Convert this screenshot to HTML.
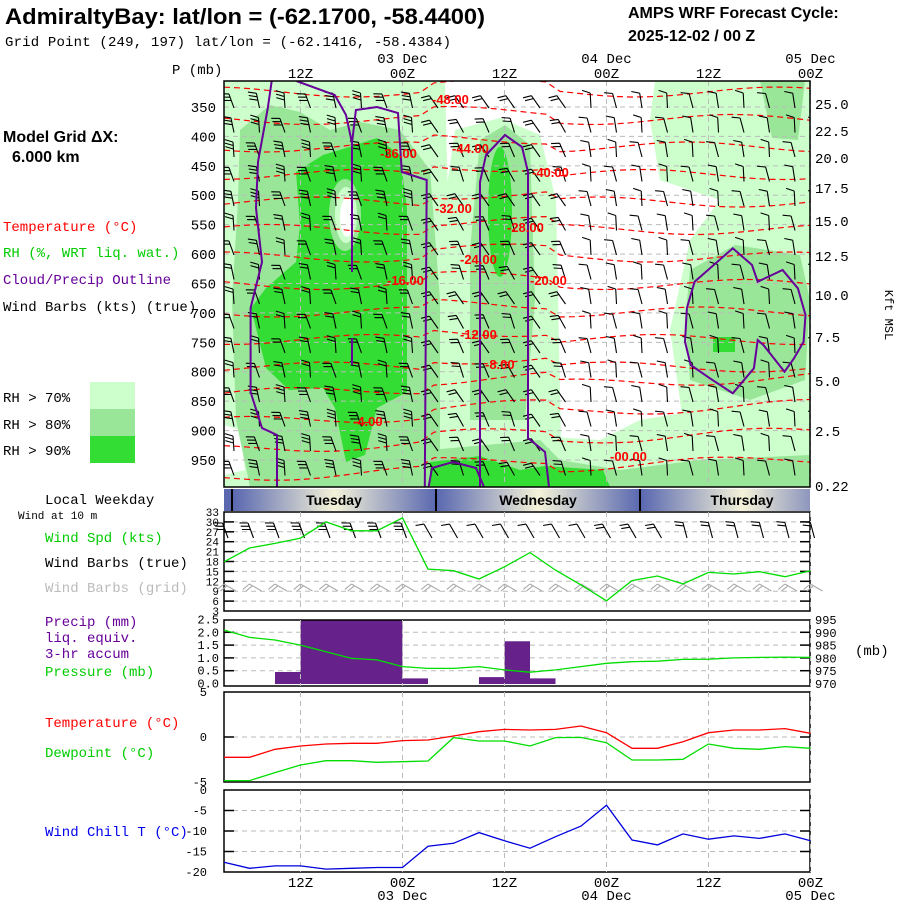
<!DOCTYPE html>
<html><head><meta charset="utf-8"><style>
body{margin:0;background:#fff}
svg{display:block}
text{font-family:"Liberation Mono",monospace;font-size:14px}
</style></head><body>
<svg id="c" width="900" height="900" viewBox="0 0 900 900">
<defs>
<linearGradient id="dayg" x1="0" x2="1" y1="0" y2="0">
<stop offset="0" stop-color="#5a68b0"/><stop offset="0.5" stop-color="#f4f2d8"/><stop offset="1" stop-color="#5a68b0"/>
</linearGradient>
<clipPath id="topclip"><rect x="224" y="81" width="586" height="406"/></clipPath>
<clipPath id="pclip"><rect x="224" y="620" width="586" height="66"/></clipPath>
<clipPath id="dayclip"><rect x="224" y="489" width="586" height="22"/></clipPath>
</defs>
<!-- header -->
<text x="5" y="24" style="font-family:'Liberation Sans',sans-serif;font-weight:bold;font-size:22px" textLength="480" lengthAdjust="spacingAndGlyphs">AdmiraltyBay:  lat/lon = (-62.1700, -58.4400)</text>
<text x="5" y="46" style="font-size:14px" textLength="446">Grid Point (249, 197) lat/lon = (-62.1416, -58.4384)</text>
<text x="628" y="18" style="font-family:'Liberation Sans',sans-serif;font-weight:bold;font-size:16px">AMPS WRF Forecast Cycle:</text>
<text x="628" y="41" style="font-family:'Liberation Sans',sans-serif;font-weight:bold;font-size:16px">2025-12-02 / 00  Z</text>
<text x="172" y="74">P (mb)</text>

<!-- left legend -->
<text x="3" y="142" style="font-family:'Liberation Sans',sans-serif;font-weight:bold;font-size:16px">Model Grid ΔX:</text>
<text x="12" y="162" style="font-family:'Liberation Sans',sans-serif;font-weight:bold;font-size:16px">6.000 km</text>
<text x="3" y="231" fill="#ff0000">Temperature (°C)</text>
<text x="3" y="257" fill="#00cc00">RH (%, WRT liq. wat.)</text>
<text x="3" y="284" fill="#660099">Cloud/Precip Outline</text>
<text x="3" y="311" fill="#000">Wind Barbs (kts) (true)</text>
<text x="3" y="402">RH &gt; 70%</text>
<text x="3" y="429">RH &gt; 80%</text>
<text x="3" y="455">RH &gt; 90%</text>
<rect x="90" y="382" width="45" height="27" fill="#ccffcc"/>
<rect x="90" y="409" width="45" height="27" fill="#99e699"/>
<rect x="90" y="436" width="45" height="27" fill="#33dd33"/>

<text x="45" y="504">Local Weekday</text>
<text x="18" y="519" style="font-size:11px">Wind at 10 m</text>
<text x="45" y="542" fill="#00cc00">Wind Spd (kts)</text>
<text x="45" y="567">Wind Barbs (true)</text>
<text x="45" y="592" fill="#bbbbbb">Wind Barbs (grid)</text>
<text x="45" y="626" fill="#660099">Precip (mm)</text>
<text x="45" y="642" fill="#660099">liq. equiv.</text>
<text x="45" y="658" fill="#660099">3-hr accum</text>
<text x="45" y="676" fill="#00cc00">Pressure (mb)</text>
<text x="855" y="655">(mb)</text>
<text x="45" y="727" fill="#ff0000">Temperature (°C)</text>
<text x="45" y="757" fill="#00cc00">Dewpoint (°C)</text>
<text x="45" y="836" fill="#0000ee">Wind Chill T (°C)</text>
<text x="885" y="315" style="font-size:12px" transform="rotate(90 885 315)" text-anchor="middle">Kft MSL</text>

<!-- top panel shading -->
<g clip-path="url(#topclip)">
<rect x="224" y="81" width="586" height="406" fill="#fff"/>
<polygon fill="#ccffcc" points="224,81 445,81 448,200 445,487 224,487"/>
<polygon fill="#ccffcc" points="455,130 500,118 540,135 556,200 562,487 445,487 445,200"/>
<polygon fill="#ccffcc" points="445,430 600,440 640,420 700,410 810,400 810,487 445,487"/>
<polygon fill="#ccffcc" points="655,81 810,81 810,487 690,487 680,400 670,330 690,240 720,200 660,180 650,120"/>
<polygon fill="#fff" points="224,425 240,430 245,470 224,475"/>
<polygon fill="#99e699" points="240,130 270,105 300,112 330,130 360,122 400,130 430,170 440,300 440,487 250,487 236,420 232,300 238,200"/>
<polygon fill="#99e699" points="480,140 505,125 530,145 535,300 525,420 470,420 470,250"/>
<polygon fill="#99e699" points="690,270 735,245 800,255 810,300 805,380 750,400 690,380 685,320"/>
<polygon fill="#99e699" points="430,450 540,440 560,460 620,470 700,460 810,455 810,487 430,487"/>
<polygon fill="#99e699" points="760,81 805,81 798,140 772,138"/>
<polygon fill="#33dd33" points="296,172 323,155 346,148 377,138 400,155 407,208 407,392 377,408 365,455 346,462 335,408 323,388 289,390 266,368 251,308 266,288 296,262 300,225"/>
<ellipse cx="345" cy="215" rx="16" ry="36" fill="#99e699"/>
<ellipse cx="346" cy="215" rx="11" ry="28" fill="#ccffcc"/>
<ellipse cx="347" cy="217" rx="7" ry="20" fill="#fff"/>
<ellipse cx="500" cy="212" rx="12" ry="65" fill="#33dd33"/>
<polygon fill="#33dd33" points="430,462 480,456 520,470 545,466 603,470 610,487 430,487"/>
<rect x="713" y="337" width="22" height="15" fill="#33dd33"/>
</g>
<g id="topgrid"></g>
<g id="tempcontours" clip-path="url(#topclip)"></g>
<g id="topbarbs" clip-path="url(#topclip)"></g>
<g clip-path="url(#topclip)" fill="none" stroke="#660099" stroke-width="2">
<polyline points="271.7,81 267.8,108 258,162 256,208 262,262 250.6,308 250.6,392 262,428 277,435 277,487"/>
<polyline points="296.5,81 334.8,95 346,115 352,143 355.9,110 377,107 398,113 401.8,172 426.7,180 424.8,487"/>
<polyline points="352,143 352,272"/><polyline points="352,338 352,365"/>
<polyline points="480,487 480,182 486,155 505,135 522,147 528,172 528,438 545,452 549,487"/>
<polyline points="428.6,487 432,468 453,462 476,468 484,487"/>
<polygon points="686.9,308 694.6,281.7 706,271.7 732.8,248.3 752,265 757.7,281.7 782.6,270 797.9,288.3 805.5,315 803.6,341.7 794,358.3 784.5,371.7 763.4,345 757.7,340 753.9,368.3 732.8,393.3 709.9,378.3 690.7,365 685,341.7"/>
</g>
<g id="templabels"></g>
<rect x="224" y="81" width="586" height="406" fill="none" stroke="#000" stroke-width="1.5"/>

<!-- weekday bar -->
<g>
<g clip-path="url(#dayclip)">
<rect x="224" y="489" width="586" height="22" fill="#5a68b0"/>
<rect x="233" y="489" width="203" height="22" fill="url(#dayg)"/>
<rect x="437" y="489" width="203" height="22" fill="url(#dayg)"/>
<rect x="641" y="489" width="203" height="22" fill="url(#dayg)"/>
</g>
<line x1="232" x2="232" y1="489" y2="511" stroke="#000" stroke-width="2"/>
<line x1="436" x2="436" y1="489" y2="511" stroke="#000" stroke-width="2"/>
<line x1="640" x2="640" y1="489" y2="511" stroke="#000" stroke-width="2"/>
<text x="334" y="505" style="font-family:'Liberation Sans',sans-serif;font-weight:bold;font-size:14px" text-anchor="middle">Tuesday</text>
<text x="538" y="505" style="font-family:'Liberation Sans',sans-serif;font-weight:bold;font-size:14px" text-anchor="middle">Wednesday</text>
<text x="742" y="505" style="font-family:'Liberation Sans',sans-serif;font-weight:bold;font-size:14px" text-anchor="middle">Thursday</text>
</g>
<g id="lower"></g>
</svg>
<script>
// ---- data ----
const timeLabels = ["12Z","00Z","12Z","00Z","12Z","00Z"];
const dateLabels = ["03 Dec","04 Dec","05 Dec"];
const pressureLevels = [350,400,450,500,550,600,650,700,750,800,850,900,950];
const kftLabels = ["25.0","22.5","20.0","17.5","15.0","12.5","10.0","7.5","5.0","2.5","0.22"];
const windSpeed = [17.9,22.1,23.5,25.1,30,27.3,27.3,31.2,15.7,15.2,12.7,16.4,20.7,15.4,10.9,6.1,12.2,13.6,11.2,14.7,14.2,14.9,13.4,15.2];
const precip = [0,0,0.45,2.6,2.6,2.6,2.6,0.2,0,0,0.25,1.65,0.2,0,0,0,0,0,0,0,0,0,0];
const pressure = [991.1,988.2,987.2,985.2,982.6,980,979.4,976.8,976.1,976.1,976.8,975.5,974.6,975.5,976.8,978.1,978.7,978.9,979.6,979.7,980.2,980.4,980.5,980.4];
const temperature = [-2.26,-2.26,-1.37,-1.0,-0.78,-0.7,-0.7,-0.4,-0.33,0.11,0.59,0.85,0.78,0.85,1.22,0.48,-1.26,-1.26,-0.52,0.48,0.78,0.78,0.93,0.41];
const dewpoint = [-4.85,-4.85,-3.96,-3.11,-2.63,-2.63,-2.81,-2.74,-2.67,-0.07,-0.44,-0.44,-1.0,-0.07,-0.04,-0.63,-2.56,-2.56,-2.48,-0.78,-1.26,-1.37,-1.07,-1.26];
const windChill = [-17.6,-19.1,-18.5,-18.5,-19.3,-19.1,-18.9,-18.9,-13.7,-13.0,-10.4,-12.4,-14.2,-11.4,-8.8,-3.7,-12.2,-13.4,-10.7,-12.0,-11.2,-11.8,-10.7,-12.4];
const windTicks = [33,30,27,24,21,18,15,12,9,6,3];
const precipTicks = ["0.0","0.5","1.0","1.5","2.0","2.5"];
const pressTicks = [970,975,980,985,990,995];
const tempTicks = [5,0,-5];
const chillTicks = [0,-5,-10,-15,-20];
const contourLabels = ["-48.00","-44.00","-40.00","-36.00","-32.00","-28.00","-24.00","-20.00","-16.00","-12.00","-8.00","-4.00","-00.00"];

// ---- axes ----
const NS="http://www.w3.org/2000/svg";
const xT=i=>224+i*25.5;
const xH=h=>224+(h-3)*8.5;
const yLev=p=>107+(p-350)*0.5883;
const yW=v=>512+(33-v)*3.3;
const yP=m=>683.5-m*25.6;
const yPr=p=>684-(p-970)*2.56;
const yT=t=>737-t*9;
const yC=t=>790-t*4.1;
function mk(tag,attrs,parent){const e=document.createElementNS(NS,tag);for(const k in attrs)e.setAttribute(k,attrs[k]);parent.appendChild(e);return e;}
const lower=document.getElementById('lower');
const tg=document.getElementById('topgrid');
const vHours=[12,24,36,48,60,72];

pressureLevels.forEach(p=>{
  const l=mk('line',{x1:224,x2:810,y1:yLev(p),y2:yLev(p),stroke:'#bbb','stroke-dasharray':'5,4'},tg);
  
  
  const t=mk('text',{x:216,y:yLev(p)+5,'text-anchor':'end'},tg);t.textContent=p;
  
  
});
vHours.forEach((h,i)=>{
  const l=mk('line',{x1:xH(h),x2:xH(h),y1:81,y2:487,stroke:'#bbb','stroke-dasharray':'5,4'},tg);
  
  
  const t=mk('text',{x:xH(h),y:78,'text-anchor':'middle'},tg);t.textContent=timeLabels[i];
  
  
  const b=mk('text',{x:xH(h),y:887,'text-anchor':'middle'},lower);b.textContent=timeLabels[i];
  
  
  if(i%2==1){
    const d=mk('text',{x:xH(h),y:63,'text-anchor':'middle'},tg);d.textContent=dateLabels[(i-1)/2];
    
    
    const d2=mk('text',{x:xH(h),y:900,'text-anchor':'middle'},lower);d2.textContent=dateLabels[(i-1)/2];
    
    
  }
});
const kftY=[104,131,158,188,221,256,295,337,381,431,486];
kftLabels.forEach((k,i)=>{
  const t=mk('text',{x:815,y:kftY[i]+5},lower);t.textContent=k;
  
  
});

// temperature contours (decorative)
const tc=document.getElementById('tempcontours');
for(let k=0;k<15;k++){
  let pts=[];
  for(let x=224;x<=812;x+=14){
    const y=92+k*27.5+5*Math.sin(x/45+k)+((x>430&&x<560)?-8:0)+(k>10?((x-224)*-0.03):0);
    pts.push(x+','+y.toFixed(1));
  }
  const pl=mk('polyline',{points:pts.join(' '),fill:'none',stroke:'#ff0000','stroke-width':1.2,'stroke-dasharray':'6,4'},tc);
  
  
}
const clPos=[[432,104],[452,153],[532,177],[380,158],[435,213],[507,232],[460,264],[530,285],[387,285],[460,339],[485,369],[353,426],[610,461]];
const tl=document.getElementById('templabels');
contourLabels.forEach((s,i)=>{
  const t=mk('text',{x:clPos[i][0],y:clPos[i][1],fill:'#ff0000',style:"font-family:'Liberation Sans',sans-serif;font-weight:bold;font-size:13px"},tl);t.textContent=s;
  
  
});

function barb(g,x,y,ang,n,len,col){
  const a=ang*Math.PI/180;
  const dx=Math.sin(a),dy=-Math.cos(a);
  const x2=x+dx*len,y2=y+dy*len;
  let d=`M${x.toFixed(1)},${y.toFixed(1)}L${x2.toFixed(1)},${y2.toFixed(1)}`;
  const px=Math.cos(a),py=Math.sin(a);
  for(let j=0;j<n;j++){
    const bx=x2-dx*j*3.5,by=y2-dy*j*3.5;
    d+=`M${bx.toFixed(1)},${by.toFixed(1)}L${(bx-px*8+dx*3).toFixed(1)},${(by-py*8+dy*3).toFixed(1)}`;
  }
  const p=mk('path',{d:d,stroke:col,fill:'none','stroke-width':1.1},g);
  
  
}
const tb=document.getElementById('topbarbs');
for(let c=0;c<24;c++){
  for(let r=0;r<16;r++){
    const x=xT(c)+10, y=100+r*24.5;
    let ang, n;
    if(c<8){ang=-20+((r+c)%3)*8; n=r<5?3:(r<12?2:3);}
    else if(c<14){ang=-35+((r*c)%4)*6; n=2;}
    else {ang=-15+((r+c)%3)*6; n=1;}
    barb(tb,x,y+8,ang,n,15,'#000');
  }
}

// ---- lower panels ----
function frame(y1,y2,name){
  const r=mk('rect',{x:224,y:y1,width:586,height:y2-y1,fill:'none',stroke:'#000','stroke-width':1.5},lower);
  
  
  vHours.forEach(h=>{
    const l=mk('line',{x1:xH(h),x2:xH(h),y1:y1,y2:y2,stroke:'#bbb','stroke-dasharray':'5,4'},lower);
    
    
  });
}
function hgrid(y,tick){
  const l=mk('line',{x1:224,x2:810,y1:y,y2:y,stroke:'#bbb','stroke-dasharray':'5,4'},lower);
  
  
  if(tick){
    mk('line',{x1:224,x2:234,y1:y,y2:y,stroke:'#000','stroke-width':1.5},lower);
    mk('line',{x1:800,x2:810,y1:y,y2:y,stroke:'#000','stroke-width':1.5},lower);
  }
}
function label(x,y,s,anchor,name,fs){
  const t=mk('text',{x:x,y:y,'text-anchor':anchor||'end'},lower);t.textContent=s;
  if(fs) t.setAttribute('style','font-size:'+fs+'px');
  
  
}
function line(arr,f,col,name){
  const pl=mk('polyline',{points:arr.map((v,i)=>xT(i)+','+f(v).toFixed(1)).join(' '),fill:'none',stroke:col,'stroke-width':1.3},lower);
  
  
}
windTicks.forEach(v=>{ if(v<33&&v>3) hgrid(yW(v),true); label(219,yW(v)+4,v,'end','wind-tick-label',11);});
frame(512,611,'wind-panel-frame');
const wb=mk('g',{},lower);


windSpeed.forEach((v,i)=>{
  barb(wb,xT(i)+4,538,i<8?-20:(i<18?-30:-15),i<8?3:(i<15?1:2),16,'#000');
  barb(wb,xT(i)+12,591,-60,2,14,'#aaa');
});
line(windSpeed,yW,'#00dd00','wind-speed-line');
precipTicks.forEach((s,i)=>{ if(i>0&&i<5) hgrid(yP(i*0.5),true); label(219,yP(i*0.5)+4,s,'end','precip-tick-label',12);});
pressTicks.forEach(p=>label(815,yPr(p)+4,p,'start','pressure-tick-label',12));
const pg=mk('g',{'clip-path':'url(#pclip)'},lower);


precip.forEach((m,i)=>{ if(m>0){
  const r=mk('rect',{x:xT(i),y:yP(m),width:25.5,height:683.5-yP(m)+0.5,fill:'#66228a'},pg);
  
  
}});
frame(620,686,'precip-panel-frame');
line(pressure,yPr,'#00dd00','pressure-line');
hgrid(yT(0),true);
tempTicks.forEach(t=>label(207,yT(t)+4,t,'end','temp-tick-label',12));
frame(692,782,'temp-panel-frame');
line(temperature,yT,'#ff0000','temperature-line');
line(dewpoint,yT,'#00dd00','dewpoint-line');
chillTicks.forEach(t=>{ if(t<0&&t>-20) hgrid(yC(t),true); label(207,yC(t)+4,t,'end','chill-tick-label',12);});
frame(790,872,'chill-panel-frame');
line(windChill,yC,'#0000dd','wind-chill-line');
</script>
</body></html>
